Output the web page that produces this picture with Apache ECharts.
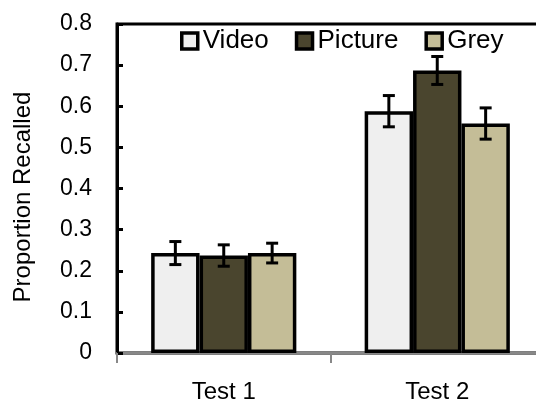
<!DOCTYPE html>
<html><head><meta charset="utf-8">
<script src="https://cdn.jsdelivr.net/npm/echarts@6/dist/echarts.min.js"></script>
<style>html,body{margin:0;padding:0;background:#fff}#c{width:536px;height:403px}</style>
</head><body><div id="c"></div>
<script>
var categories = ['Test 1', 'Test 2'];
var seriesNames = ['Video', 'Picture', 'Grey'];
var videoValues = [0.243, 0.588];
var pictureValues = [0.237, 0.687];
var greyValues = [0.243, 0.558];
var videoErr = [0.028, 0.038];
var pictureErr = [0.026, 0.034];
var greyErr = [0.024, 0.038];
var yTicks = [0, 0.1, 0.2, 0.3, 0.4, 0.5, 0.6, 0.7, 0.8];
var colors = ['#efefef', '#4a452e', '#c4bd97'];

var values = [videoValues, pictureValues, greyValues];
var errs = [videoErr, pictureErr, greyErr];
var CAT_GAP = 0.32;
var FONT = 'Liberation Sans, Arial, sans-serif';

var series = [];
values.forEach(function (vals, i) {
  series.push({
    name: seriesNames[i], type: 'bar', data: vals,
    barGap: '0%', barCategoryGap: (CAT_GAP * 100) + '%',
    itemStyle: { color: colors[i], borderColor: '#000', borderWidth: 3.5 },
    emphasis: { disabled: true }
  });
});
values.forEach(function (vals, i) {
  var data = vals.map(function (v, k) { return [k, v - errs[i][k], v + errs[i][k]]; });
  series.push({
    type: 'custom', silent: true, z: 10,
    data: data,
    encode: { x: 0, y: [1, 2] },
    renderItem: function (params, api) {
      var k = api.value(0);
      var lo = api.coord([k, api.value(1)]);
      var hi = api.coord([k, api.value(2)]);
      var band = api.size([1, 0])[0];
      var barW = band * (1 - CAT_GAP) / 3;
      var x = lo[0] + (i - 1) * barW;
      var cap = 6;
      var st = { stroke: '#000', lineWidth: 3 };
      return { type: 'group', children: [
        { type: 'line', shape: { x1: x, y1: lo[1], x2: x, y2: hi[1] }, style: st },
        { type: 'line', shape: { x1: x - cap, y1: lo[1], x2: x + cap, y2: lo[1] }, style: st },
        { type: 'line', shape: { x1: x - cap, y1: hi[1], x2: x + cap, y2: hi[1] }, style: st }
      ]};
    }
  });
});

var chart = echarts.init(document.getElementById('c'));
chart.setOption({
  animation: false,
  textStyle: { fontFamily: FONT },
  grid: { left: 117, top: 24, width: 427, height: 329, outerBoundsMode: 'none', containLabel: false,
    show: true, borderColor: '#000', borderWidth: 3, backgroundColor: 'transparent' },
  legend: {
    data: seriesNames, left: 175, top: 23, icon: 'rect',
    itemWidth: 16, itemHeight: 16, itemGap: 26,
    itemStyle: { borderColor: '#000', borderWidth: 3.5 },
    textStyle: { fontSize: 26, color: '#000', fontFamily: FONT },
    selectedMode: false
  },
  xAxis: {
    type: 'category', data: categories, offset: 1,
    axisLine: { lineStyle: { color: '#888', width: 2 } },
    axisTick: { show: true, length: 10, lineStyle: { color: '#888', width: 2 } },
    axisLabel: { fontSize: 24, color: '#000', margin: 26, fontFamily: FONT },
    splitLine: { show: false }
  },
  yAxis: {
    type: 'value', min: 0, max: 0.8, interval: 0.1,
    name: 'Proportion Recalled', nameLocation: 'middle', nameGap: 82,
    nameTextStyle: { fontSize: 24, color: '#000', fontFamily: FONT, padding: [0, 17, 0, 0] },
    axisLine: { show: true, lineStyle: { color: '#000', width: 3 } },
    axisTick: { show: true, inside: true, length: 6, lineStyle: { color: '#000', width: 3 } },
    axisLabel: { fontSize: 23, color: '#000', margin: 25, fontFamily: FONT,
      formatter: function (v) { var t = yTicks.filter(function (y) { return Math.abs(y - v) < 1e-9; }); return t.length ? String(t[0]) : ''; } },
    splitLine: { show: false }
  },
  series: series
});
</script></body></html>
